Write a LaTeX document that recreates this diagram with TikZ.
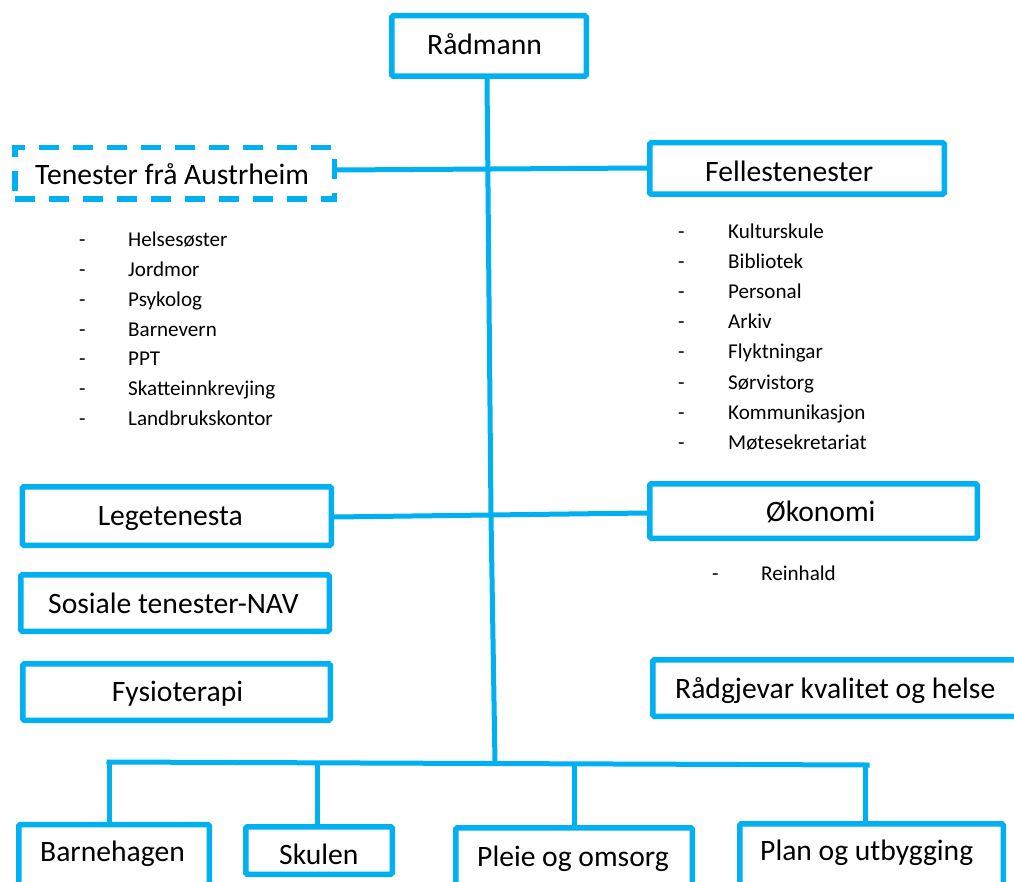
\documentclass[tikz,border=0pt]{standalone}
\usepackage{fontspec}
\setmainfont{Carlito}
\definecolor{cy}{RGB}{0,176,240}
\begin{document}
\begin{tikzpicture}[x=1pt,y=-1pt,
 box/.style={draw=cy,line width=5.5pt,rounded corners=1.5pt,inner sep=0pt,rectangle},
 dbox/.style={box,dash pattern=on 20pt off 14pt,rounded corners=0pt},
 con/.style={draw=cy,line width=5pt},
 big/.style={font=\fontsize{29.6}{35}\selectfont,inner sep=0pt,anchor=base west},
 small/.style={font=\fontsize{21.1}{25}\selectfont,inner sep=0pt,anchor=base west}]
\fill[white] (0,0) rectangle (1014,882);
\clip (0,0) rectangle (1014,882);

% boxes
\node[box,minimum width=194.5pt,minimum height=60.5pt] (rad) at (489,46) {};
\node[dbox,minimum width=319.5pt,minimum height=51.5pt] (ten) at (174.5,173.5) {};
\node[box,minimum width=294.5pt,minimum height=51.5pt] (fel) at (797,168.5) {};
\node[box,minimum width=309pt,minimum height=58.5pt] (leg) at (176.75,516) {};
\node[box,minimum width=327.5pt,minimum height=54.5pt] (oko) at (813.5,511) {};
\node[box,minimum width=308.5pt,minimum height=56.5pt] (sos) at (175,603) {};
\node[box,minimum width=307.5pt,minimum height=56.5pt] (fys) at (176.5,692) {};
\node[box,minimum width=377pt,minimum height=56.5pt] (rg) at (841.25,688) {};
\node[box,minimum width=190.5pt,minimum height=75pt] (bh) at (114,862) {};
\node[box,minimum width=146.5pt,minimum height=47.5pt] (sk) at (319,850.5) {};
\node[box,minimum width=236.5pt,minimum height=72pt] (po) at (574,863.75) {};
\node[box,minimum width=263.5pt,minimum height=76pt] (pu) at (871.5,861.75) {};

% texts
\node[big] at (427,55) {Rådmann};
\node[big] at (35,185) {Tenester frå Austrheim};
\node[big] at (705,181.7) {Fellestenester};
\node[big] at (97.6,525) {Legetenesta};
\node[big] at (766,521.7) {Økonomi};
\node[big] at (48,613) {Sosiale tenester-NAV};
\node[big] at (111.7,701.7) {Fysioterapi};
\node[big] at (675,698) {Rådgjevar kvalitet og helse};
\node[big] at (40,861.7) {Barnehagen};
\node[big] at (279,864) {Skulen};
\node[big] at (477,866) {Pleie og omsorg};
\node[big] at (760,860.7) {Plan og utbygging};

% lists
\foreach \t [count=\i from 0] in {Helsesøster,Jordmor,Psykolog,Barnevern,PPT,Skatteinnkrevjing,Landbrukskontor}{
  \node[small] (ta\i) at (128,{246.7+29.8*\i}) {\t};
  \node[small] (da\i) at (79,{246.7+29.8*\i}) {-};
}
\foreach \t [count=\i from 0] in {Kulturskule,Bibliotek,Personal,Arkiv,Flyktningar,Sørvistorg,Kommunikasjon,Møtesekretariat}{
  \node[small] (tf\i) at (728,{239+30*\i}) {\t};
  \node[small] (df\i) at (678,{239+30*\i}) {-};
}
\node[small] (reinh) at (761,580) {Reinhald};
\node[small] (dreinh) at (712,580) {-};

% connectors
\coordinate (c1) at (491,516);
\coordinate (bus) at (495,763);
\coordinate (bL) at (109,762);
\coordinate (bR) at (867,765);
\coordinate (bS) at (317,762.5);
\coordinate (bP) at (574,763.5);
\coordinate (bU) at (865,765);
\draw[con] (rad.south -| 487,0) -- (c1) -- (bus);
\draw[con] (ten.east |- 0,170) -- (fel.west |- 0,168);
\draw[con] (leg.east |- 0,517) -- (oko.west |- 0,513);
\draw[con,line cap=rect] (bL) -- (bR);
\draw[con] (bL) -- (bL |- bh.north);
\draw[con] (bS) -- (bS |- sk.north);
\draw[con] (bP) -- (bP |- po.north);
\draw[con] (bU) -- (bU |- pu.north);
\end{tikzpicture}
\end{document}
